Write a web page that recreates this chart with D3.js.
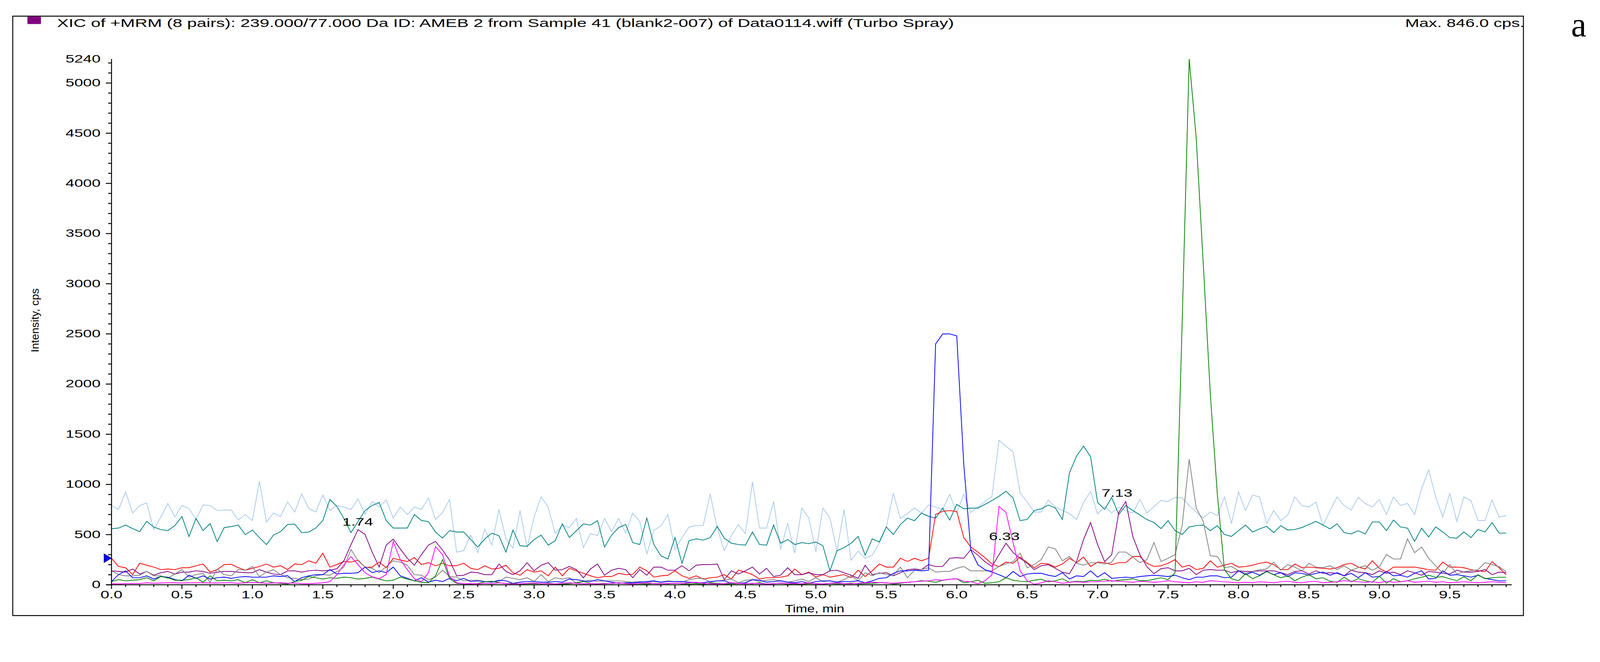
<!DOCTYPE html>
<html><head><meta charset="utf-8">
<script src="https://cdn.jsdelivr.net/npm/d3@7"></script>
<style>html,body{margin:0;padding:0;background:#fff;overflow:hidden;width:100vw;height:100vh;}svg{display:block;}</style>
</head><body>
<script>
const titleText = "XIC of +MRM (8 pairs): 239.000/77.000 Da ID: AMEB 2 from Sample 41 (blank2-007) of Data0114.wiff (Turbo Spray)";
const maxText = "Max. 846.0 cps.";
const xTicks = [0,0.5,1,1.5,2,2.5,3,3.5,4,4.5,5,5.5,6,6.5,7,7.5,8,8.5,9,9.5];
const yTicks = [0,500,1000,1500,2000,2500,3000,3500,4000,4500,5000];
const yTop = 5240;
const times = d3.range(0, 9.925, 0.05);
const seriesNames = ["lightblue","teal","red","purple","gray","blue","green","magenta"];
const seriesColors = ["#a9caee","#008080","#ff0000","#800080","#808080","#0000ff","#008000","#ff00ff"];
const lightblue = [
790,750,925,715,790,815,550,675,810,675, 790,760,650,795,790,740,745,745,645,700,
640,1030,625,715,680,825,725,905,760,725, 895,740,790,775,750,855,700,830,775,845,
665,775,700,775,750,865,650,720,850,325, 340,495,320,555,395,750,460,365,740,370,
675,875,775,510,595,570,660,370,510,490, 660,530,660,515,715,630,305,545,585,700,
350,470,575,590,590,905,565,340,490,600, 510,1025,565,565,830,350,615,315,765,665,
330,765,665,340,750,245,335,265,295,415, 575,915,660,710,765,715,795,775,750,900,
720,900,720,775,830,880,1440,1380,1325,915, 825,725,725,845,775,740,710,650,820,930,
705,780,715,775,740,715,850,715,780,840, 830,870,865,790,725,665,725,690,875,610,
925,740,895,875,610,740,640,695,875,790, 775,825,590,740,875,790,745,870,810,775,
850,700,875,790,810,700,960,1145,875,675, 910,630,875,840,640,640,845,675,690];
const teal = [
558,565,595,560,530,632,575,550,540,590, 680,480,660,540,610,430,570,580,595,500,
545,470,400,495,530,600,605,520,525,565, 640,850,780,660,520,630,740,790,820,640,
565,565,565,700,640,630,525,465,540,525, 526,451,376,457,514,489,326,545,389,383,
451,495,395,439,607,470,539,607,595,639, 376,495,570,601,420,401,664,401,289,257,
470,214,439,457,445,470,582,464,414,401, 395,526,401,395,595,414,451,401,420,410,
426,389,139,339,370,414,482,295,457,426, 576,501,601,664,639,714,682,664,764,645,
801,757,764,764,801,839,882,932,864,639, 651,739,757,795,765,651,1114,1280,1382,1276,
820,751,870,700,790,740,695,650,620,560, 639,539,501,576,589,595,539,589,501,482,
539,595,526,557,582,520,589,545,551,570, 601,632,595,557,607,520,507,539,507,626,
626,539,645,576,564,432,564,476,576,526, 470,464,526,470,551,526,620,514,515];
const red = [
264,182,170,101,214,195,176,151,157,151, 170,170,189,207,126,151,201,204,170,145,
164,182,207,176,189,151,207,201,239,214, 314,176,201,232,226,245,176,176,226,170,
264,245,232,270,201,220,189,214,189,190, 214,164,151,189,157,164,195,120,95,151,
126,139,89,176,89,164,139,114,89,70, 82,82,114,101,104,176,139,76,89,95,
139,89,64,89,57,70,76,101,57,145, 126,101,57,70,70,76,89,157,101,126,
76,101,76,89,101,70,145,82,139,207, 176,176,264,232,264,239,264,701,732,739,
730,470,376,326,270,207,182,226,214,276, 220,170,214,207,176,207,264,220,276,182,
226,220,201,220,220,282,282,214,182,189, 214,251,176,195,151,164,239,176,195,214,
176,182,195,214,226,201,151,151,207,170, 176,170,164,157,170,201,214,176,157,239,
164,126,176,176,176,176,164,151,145,226, 176,176,170,150,140,130,230,170,100];
const purple = [
139,133,126,157,107,133,95,120,133,107, 126,126,139,133,114,126,133,133,126,120,
120,151,126,107,101,139,139,126,139,145, 139,145,160,240,400,550,501,326,176,395,
455,357,264,195,300,395,432,345,245,89, 95,126,120,101,101,207,133,101,139,220,
139,195,220,145,151,182,151,70,157,207, 95,145,164,151,70,151,95,176,176,145,
145,189,139,195,201,201,207,51,139,107, 139,176,107,164,82,95,170,101,101,120,
101,101,139,145,120,95,64,195,101,114, 120,89,120,151,157,151,201,182,182,264,
270,264,351,295,230,182,300,414,320,264, 214,151,190,200,164,125,110,230,450,620,
400,230,300,720,830,480,300,180,110,160, 170,139,139,164,101,145,151,145,145,120,
139,133,133,139,139,139,120,101,133,139, 107,139,114,120,114,89,145,126,120,101,
139,114,126,101,139,120,95,133,126,114, 107,145,126,126,133,151,101,126,120];
const gray = [
139,101,89,89,95,133,89,89,64,107, 151,76,101,114,26,157,101,89,151,145,
182,82,126,151,101,70,64,51,57,89, 101,95,130,176,351,239,176,164,120,180,
239,226,195,101,95,51,76,145,82,76, 39,45,45,32,32,32,76,64,51,70,
32,101,32,70,57,70,14,32,45,32, 39,39,39,32,26,32,26,32,26,39,
32,26,51,64,64,26,39,45,57,20, 45,51,32,45,51,39,26,39,57,32,
70,32,39,26,51,89,39,120,89,120, 101,95,176,70,145,151,170,126,133,133,
164,182,139,139,139,139,182,207,232,314, 170,201,251,376,357,239,282,214,195,220,
220,207,226,326,326,276,220,251,420,232, 264,300,589,1251,764,632,289,282,170,182,
139,114,133,151,157,226,145,201,176,139, 214,176,170,189,151,189,145,170,189,145,
180,301,257,257,457,320,376,264,189,114, 201,107,130,140,150,220,200,180,130];
const blue = [
32,101,139,70,70,89,57,82,76,51, 39,95,64,89,57,70,76,64,76,82,
76,76,76,89,82,91,32,70,89,101, 101,151,107,114,114,120,176,120,139,120,
176,89,64,39,70,26,45,32,64,40, 64,32,39,32,26,45,39,14,26,32,
32,26,26,32,26,57,51,39,32,51, 39,26,14,20,20,26,32,39,26,32,
32,32,26,20,20,32,39,39,14,14, 20,51,45,26,32,39,26,20,32,14,
32,39,39,26,32,32,39,20,39,64, 70,114,139,139,145,139,145,2400,2500,2500,
2480,1200,345,200,151,126,100,70,133,82, 107,114,114,95,82,120,57,89,82,139,
76,120,64,70,76,70,82,89,95,89, 82,95,70,51,76,76,89,89,70,76,
139,101,126,95,133,101,120,82,120,114, 95,114,126,95,120,89,114,70,120,76,
82,133,89,95,76,114,139,57,64,139, 95,101,89,76,95,64,51,39,39];
const green = [
32,51,39,45,51,70,39,82,70,45, 45,51,70,26,89,39,45,39,51,20,
51,20,39,20,14,8,32,45,82,70, 57,70,64,76,70,57,64,76,57,39,
45,76,57,39,26,20,89,251,60,14, 10,8,12,30,35,20,12,14,8,10,
12,10,15,8,6,10,20,35,12,10, 14,12,20,15,10,12,8,14,12,10,
16,10,8,12,6,18,15,8,10,12, 14,10,20,8,12,15,8,10,6,12,
12,8,14,10,12,16,10,12,15,20, 20,8,15,25,30,40,35,25,45,55,
60,20,30,45,15,20,30,70,45,35, 30,45,55,30,40,60,25,35,30,45,
40,55,35,45,50,60,40,40,55,70, 51,120,2600,5240,4450,3200,1900,900,150,60,
40,110,60,90,130,100,70,90,40,75, 100,60,70,35,25,75,30,60,40,25,
85,15,60,30,40,60,75,95,75,80, 60,40,80,40,100,60,70,75,75];
const magenta = [
10,8,12,12,12,20,15,18,20,20, 18,20,20,20,18,18,20,20,15,20,
22,20,15,18,20,15,18,12,10,15, 20,30,100,200,280,200,120,80,60,100,
430,250,150,60,30,120,380,300,80,20, 10,12,8,15,10,20,12,8,10,14,
18,12,10,8,15,20,14,10,12,8, 10,14,20,12,8,15,20,12,10,14,
16,12,20,25,15,10,8,12,20,14, 10,15,12,8,10,18,12,14,10,20,
10,8,15,20,12,10,15,20,25,22, 18,15,20,25,30,35,40,50,45,55,
60,35,30,10,40,100,780,720,420,140, 40,5,20,40,30,15,25,30,25,30,
30,35,40,35,30,25,35,30,25,30, 40,30,25,20,30,25,40,35,30,25,
20,25,20,30,25,20,30,35,25,20, 30,35,20,25,30,40,35,30,25,30,
20,35,25,30,40,25,30,35,25,30, 20,25,30,25,20,25,30,25,20];
const annotTimes = [1.74, 6.33, 7.13];
const annotY = [590, 446, 878];
const markerValue = 265;

const W = 4262, H = 1694;
const svg = d3.select("body").append("svg")
  .attr("viewBox", `0 0 ${W} ${H}`).attr("preserveAspectRatio", "xMinYMin meet")
  .style("width", "100vw").style("height", "100vh");
svg.append("rect").attr("width", W).attr("height", H).attr("fill", "#fff");
const x = d3.scaleLinear().domain([0, 9.94]).range([297, 4027]);
const y = d3.scaleLinear().domain([0, yTop]).range([1557, 157]);
const font = "'Liberation Sans', Arial, sans-serif";

function label(px, py, txt, anchor, size, sx) {
  svg.append("text").attr("transform", `translate(${px},${py}) scale(${sx},1)`)
    .attr("text-anchor", anchor).attr("font-family", font).attr("font-size", size)
    .attr("fill", "#000").text(txt);
}

// frame
svg.append("rect").attr("x", 34).attr("y", 43).attr("width", 4024).attr("height", 1596)
  .attr("fill", "none").attr("stroke", "#000").attr("stroke-width", 2.5);
// title
svg.append("rect").attr("x", 73).attr("y", 44).attr("width", 36).attr("height", 20).attr("fill", "#800080");
svg.append("text").attr("x", 152).attr("y", 72).attr("font-family", font).attr("font-size", 31)
  .attr("textLength", 2389).attr("lengthAdjust", "spacingAndGlyphs").text(titleText);
svg.append("text").attr("x", 3743).attr("y", 72).attr("font-family", font).attr("font-size", 31)
  .attr("textLength", 318).attr("lengthAdjust", "spacingAndGlyphs").text(maxText);
svg.append("text").attr("x", 4185).attr("y", 97).attr("font-family", "'Liberation Serif', 'DejaVu Serif', serif")
  .attr("font-size", 92).text("a");

// series
const line = d3.line().x((d, i) => x(times[i])).y(d => y(d));
const allSeries = [lightblue, teal, red, purple, gray, blue, green, magenta];
allSeries.forEach((s, k) => {
  svg.append("path").datum(s).attr("d", line).attr("fill", "none")
    .attr("stroke", seriesColors[k]).attr("stroke-width", 2).attr("stroke-linejoin", "miter");
});

// axes
const ax = svg.append("g").attr("stroke", "#000").attr("stroke-width", 2.5);
ax.append("line").attr("x1", 297).attr("x2", 297).attr("y1", y(yTop)).attr("y2", 1557);
ax.append("line").attr("x1", 283).attr("x2", 4027).attr("y1", 1557).attr("y2", 1557);
d3.range(0, 99.5, 1).map(i => i / 10).forEach(t => {
  const major = Math.abs(t * 2 - Math.round(t * 2)) < 1e-6;
  ax.append("line").attr("x1", x(t)).attr("x2", x(t)).attr("y1", 1557).attr("y2", 1557 + (major ? 11 : 6));
});
d3.range(0, 5201, 100).forEach(v => {
  const major = v % 500 === 0;
  ax.append("line").attr("x1", 297 - (major ? 15 : 9)).attr("x2", 297).attr("y1", y(v)).attr("y2", y(v));
});
xTicks.forEach(t => label(x(t), 1593, t.toFixed(1), "middle", 29, 1.45));
yTicks.forEach(v => label(268, y(v) + 9, String(v), "end", 29, 1.45));
label(268, 167, String(yTop), "end", 29, 1.45);
label(2170, 1630, "Time, min", "middle", 28, 1.3);
svg.append("text").attr("transform", "translate(103,853) rotate(-90)").attr("text-anchor", "middle")
  .attr("font-family", font).attr("font-size", 28).attr("textLength", 170).attr("lengthAdjust", "spacingAndGlyphs")
  .text("Intensity, cps");

// marker
const my = y(markerValue);
svg.append("path").attr("d", `M277,${my - 12}L297,${my}L277,${my + 12}Z`).attr("fill", "#0000ff").attr("stroke", "#000").attr("stroke-width", 1);

// annotations
annotTimes.forEach((t, i) => label(x(t) + 3, y(annotY[i]), t.toFixed(2), "middle", 29, 1.45));
</script>
</body></html>
